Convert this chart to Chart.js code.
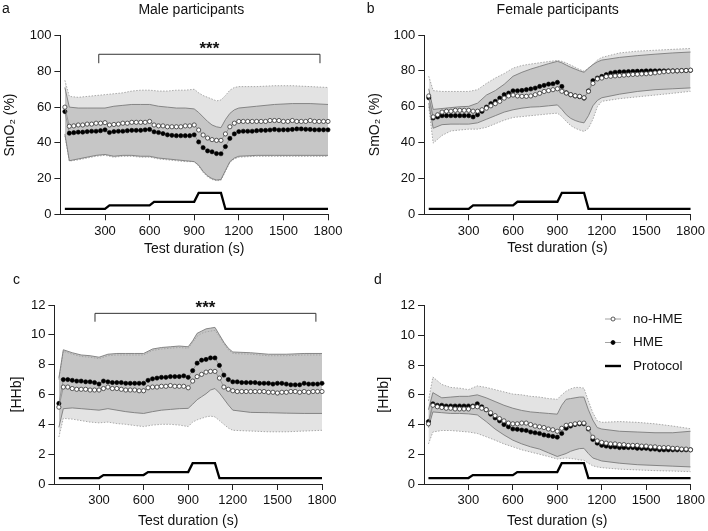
<!DOCTYPE html>
<html>
<head>
<meta charset="utf-8">
<script src="https://cdn.jsdelivr.net/npm/chart.js@4.4.1/dist/chart.umd.min.js"></script>
<style>
  body { margin: 0; background: #fff; }
  #wrap { position: relative; width: 708px; height: 531px; }
  canvas { position: absolute; }
</style>
</head>
<body>
<div id="wrap">
  <canvas id="panelA" width="354" height="265" style="left:0;top:0"></canvas>
  <canvas id="panelB" width="354" height="265" style="left:354px;top:0"></canvas>
  <canvas id="panelC" width="354" height="266" style="left:0;top:265px"></canvas>
  <canvas id="panelD" width="354" height="266" style="left:354px;top:265px"></canvas>
</div>
<script>
// time points of the means (s)
const times = [30, 60, 90, 120, 150, 180, 210, 240, 270, 300,
  330, 360, 390, 420, 450, 480, 510, 540, 570, 600,
  630, 660, 690, 720, 750, 780, 810, 840, 870, 900,
  930, 960, 990, 1020, 1050, 1080, 1110, 1140, 1170, 1200,
  1230, 1260, 1290, 1320, 1350, 1380, 1410, 1440, 1470, 1500,
  1530, 1560, 1590, 1620, 1650, 1680, 1710, 1740, 1770, 1800];
// time points where the SD bands were read
const bandTimes = [30, 60, 120, 180, 240, 300, 360, 420, 480, 540,
  600, 660, 720, 780, 840, 900,
  930, 960, 990, 1020, 1050, 1080, 1110, 1140, 1170, 1200,
  1320, 1440, 1560, 1680, 1800];
const protocolTimes = [30, 300, 330, 600, 630, 900, 930, 1080, 1110, 1800];
const protocolSmO2 = [3, 3, 5, 5, 7, 7, 12, 12, 3, 3];
const protocolHHb = [0.4, 0.4, 0.6, 0.6, 0.8, 0.8, 1.4, 1.4, 0.4, 0.4];

const xTicks = [300, 600, 900, 1200, 1500, 1800];
const smo2Ticks = [0, 20, 40, 60, 80, 100];
const hhbTicks = [0, 2, 4, 6, 8, 10, 12];

// a: male SmO2
const maleSmO2NoHme = [60, 49.3, 49.5, 50, 50, 50.5, 50.5, 51, 51, 51.3,
  50, 50.3, 50.5, 51, 51, 51.5, 51.5, 51.5, 51.5, 52,
  50, 49.5, 49.5, 49, 49, 49, 49, 49.5, 49.5, 50,
  47.2, 44.4, 42.7, 41.8, 41.4, 41.4, 45, 49, 51, 52,
  52, 52, 52, 52, 52, 52, 52.5, 52.5, 52.5, 52,
  52, 52.5, 52, 52, 52, 52.5, 52, 52, 52, 52];
const maleSmO2Hme = [57.5, 45.4, 45.7, 46, 46, 46.3, 46.5, 46.5, 46.8, 47.3,
  45.8, 46.3, 46.5, 46.5, 46.8, 47, 47, 47, 47.3, 47.5,
  46.2, 45.8, 45.2, 44.5, 44.2, 44, 44, 44, 44, 44.5,
  40.5, 37.3, 35.5, 35, 34, 33.9, 37.9, 42.5, 45, 46.3,
  46.5, 46.5, 46.5, 46.8, 47, 47, 47.2, 47.5, 47.2, 47.3,
  47.3, 47.5, 47.8, 47.8, 47.6, 47.5, 47.3, 47.3, 47.3, 47.3];
const maleSmO2NoHmeUpper = [75, 66, 65.5, 66, 66.5, 67, 67.5, 68, 69, 69.5,
  69.5, 69, 69, 69.5, 69.5, 70,
  68, 66.5, 65.5, 64.5, 63.5, 64, 66.5, 69.5, 71, 71.5,
  71.5, 72, 72, 71.5, 71];
const maleSmO2NoHmeLower = [44, 29.8, 30.5, 31.5, 32.5, 33, 32, 32.5, 32.5, 32,
  32, 31, 30.5, 30, 29.5, 29.5,
  27, 23.5, 21, 19.5, 18.8, 19, 24, 29, 31, 32,
  32.5, 32.5, 32.5, 32.5, 32.5];
const maleSmO2HmeUpper = [71, 60, 59.5, 59.5, 59.5, 59.5, 60.5, 61, 61.5, 61.5,
  61.5, 60.5, 60, 59.5, 59.5, 59,
  57, 54.5, 52, 50, 49, 48.5, 53, 56.5, 58.5, 59.5,
  60.5, 61.5, 62, 62, 61.5];
const maleSmO2HmeLower = [45, 30, 31, 32, 33, 33.5, 32.5, 33, 33, 32.5,
  32.5, 31.5, 31, 30.5, 30, 29.5,
  27.5, 24, 21.5, 20, 19.2, 19.5, 24.5, 29.5, 31.5, 32.5,
  33, 33, 33, 33, 33];

// b: female SmO2
const femaleSmO2NoHme = [66, 54.3, 55.5, 57, 57.5, 57.5, 58, 58, 58, 58,
  57.5, 57.5, 58.3, 59.2, 60.5, 61.7, 63, 64.8, 66, 66.5,
  66, 65.8, 65.8, 66, 66.7, 67.5, 68.5, 69, 69.5, 70,
  68.6, 67.6, 66.7, 66.1, 65.8, 65, 68.6, 73, 75.5, 76,
  76.8, 77, 77.2, 77.4, 77.6, 77.8, 78, 78.1, 78.3, 78.4,
  78.6, 78.9, 79.2, 79.5, 79.7, 79.9, 80, 80.1, 80.2, 80.4];
const femaleSmO2Hme = [65, 53.7, 54.3, 55, 55, 55, 55, 55, 55, 55,
  54.3, 55.5, 57.4, 59.8, 61.7, 63, 64.8, 66.7, 67.6, 68.9,
  68.9, 69.1, 69.5, 69.9, 70.4, 71.3, 71.9, 72.6, 72.8, 73.6,
  71.3, 67.8, 66.7, 66, 65.6, 64.8, 68.8, 74.5, 76, 76.9,
  77.9, 78.8, 79.2, 79.4, 79.5, 79.6, 79.7, 79.8, 79.8, 80,
  80, 80, 80, 80, 80, 80, 80, 80.2, 80.2, 80.3];
const femaleSmO2NoHmeUpper = [77, 69, 68.5, 68.5, 68.5, 68.5, 69.5, 73, 76, 78.5,
  81.5, 83, 83.8, 84.5, 85.2, 85.8,
  85.3, 84.4, 83.2, 82, 80.8, 79.8, 81.5, 83.5, 86, 87.5,
  90, 91, 91.5, 92, 92.5];
const femaleSmO2NoHmeLower = [60, 39.7, 44, 46.5, 47, 47.5, 47.5, 48.5, 50.5, 52.5,
  54, 54.5, 55, 55.5, 56, 56.4,
  54.5, 51.8, 49.5, 48, 47, 46.2, 48, 53, 60, 63,
  64.5, 65.5, 66.5, 67.5, 68.6];
const femaleSmO2HmeUpper = [70, 58.5, 59, 59.5, 60, 60.2, 62, 66.5, 69, 72.5,
  77, 79.2, 81, 82.5, 84, 85.3,
  84.5, 83.2, 82, 81, 80, 79.2, 81.5, 83.5, 85, 86,
  87.5, 88.5, 89.3, 90, 90.5];
const femaleSmO2HmeLower = [62, 48, 50, 50.3, 50.3, 50.3, 51, 53, 55, 57,
  58.3, 59.2, 59.8, 60, 60.5, 61,
  58.5, 55.5, 53.5, 52.3, 51.5, 51, 55, 60.5, 63.5, 65,
  67, 68.5, 69.5, 70, 70.5];

// c: male [HHb]
const maleHHbNoHme = [5.15, 6.5, 6.5, 6.4, 6.35, 6.35, 6.35, 6.3, 6.3, 6.3,
  6.4, 6.5, 6.4, 6.4, 6.35, 6.3, 6.3, 6.3, 6.25, 6.25,
  6.45, 6.5, 6.5, 6.55, 6.55, 6.6, 6.55, 6.55, 6.55, 6.45,
  6.9, 7.2, 7.35, 7.5, 7.55, 7.55, 7.1, 6.5, 6.35, 6.25,
  6.2, 6.2, 6.2, 6.2, 6.2, 6.2, 6.2, 6.15, 6.15, 6.1,
  6.15, 6.15, 6.2, 6.2, 6.15, 6.2, 6.15, 6.2, 6.2, 6.2];
const maleHHbHme = [5.4, 7.0, 7.0, 6.95, 6.9, 6.9, 6.85, 6.85, 6.8, 6.7,
  6.9, 6.85, 6.8, 6.8, 6.8, 6.75, 6.75, 6.75, 6.75, 6.75,
  6.95, 7.05, 7.1, 7.15, 7.15, 7.2, 7.2, 7.2, 7.25, 7.15,
  7.6, 8.1, 8.3, 8.35, 8.45, 8.45, 7.95, 7.3, 7.0, 6.85,
  6.85, 6.8, 6.8, 6.8, 6.8, 6.75, 6.75, 6.75, 6.7, 6.75,
  6.75, 6.7, 6.65, 6.65, 6.65, 6.75, 6.7, 6.7, 6.7, 6.75];
const maleHHbNoHmeUpper = [7.0, 8.9, 8.7, 8.55, 8.5, 8.4, 8.6, 8.65, 8.65, 8.65,
  8.65, 8.95, 9.05, 9.1, 9.15, 9.1,
  9.5, 9.9, 10.1, 10.2, 10.25, 10.3, 9.9, 9.4, 9.0, 8.75,
  8.7, 8.6, 8.6, 8.65, 8.65];
const maleHHbNoHmeLower = [3.15, 4.4, 4.35, 4.25, 4.15, 4.1, 4.15, 4.05, 4.0, 3.92,
  3.85, 3.95, 4.0, 4.0, 3.95, 3.85,
  4.15, 4.3, 4.4, 4.5, 4.55, 4.5, 4.25, 4.0, 3.75, 3.6,
  3.55, 3.5, 3.5, 3.55, 3.6];
const maleHHbHmeUpper = [7.1, 9.0, 8.8, 8.65, 8.6, 8.5, 8.7, 8.75, 8.75, 8.75,
  8.75, 9.05, 9.15, 9.2, 9.25, 9.2,
  9.6, 10.1, 10.25, 10.4, 10.45, 10.5, 10.0, 9.5, 9.1, 8.85,
  8.8, 8.7, 8.7, 8.75, 8.75];
const maleHHbHmeLower = [3.8, 5.05, 5.1, 5.05, 5.0, 4.95, 5.05, 4.95, 4.85, 4.78,
  4.73, 4.85, 4.95, 5.0, 5.05, 5.07,
  5.35, 5.65, 5.85, 6.05, 6.3, 6.4, 6.1, 5.7, 5.3, 4.95,
  4.8, 4.78, 4.75, 4.73, 4.73];

// d: female [HHb]
const femaleHHbNoHme = [4.05, 5.3, 5.2, 5.15, 5.1, 5.1, 5.05, 5.05, 5.05, 5.05,
  5.2, 5.2, 5.1, 5.0, 4.8, 4.6, 4.4, 4.25, 4.1, 4.05,
  4.05, 4.1, 4.1, 4.0, 3.9, 3.85, 3.8, 3.7, 3.65, 3.55,
  3.75, 3.95, 4.0, 4.05, 4.1, 4.1, 3.75, 3.15, 2.9, 2.8,
  2.75, 2.7, 2.7, 2.65, 2.65, 2.6, 2.6, 2.6, 2.55, 2.55,
  2.5, 2.5, 2.45, 2.45, 2.45, 2.4, 2.4, 2.35, 2.35, 2.3];
const femaleHHbHme = [4.2, 5.4, 5.3, 5.3, 5.25, 5.25, 5.25, 5.25, 5.25, 5.25,
  5.25, 5.4, 5.2, 5.0, 4.7, 4.45, 4.25, 4.0, 3.85, 3.7,
  3.68, 3.63, 3.6, 3.5, 3.45, 3.4, 3.3, 3.25, 3.2, 3.15,
  3.4, 3.75, 3.9, 4.0, 4.05, 4.05, 3.7, 3.0, 2.75, 2.6,
  2.55, 2.5, 2.5, 2.45, 2.45, 2.45, 2.45, 2.4, 2.4, 2.4,
  2.35, 2.35, 2.3, 2.3, 2.3, 2.3, 2.3, 2.3, 2.3, 2.3];
const femaleHHbNoHmeUpper = [5.6, 7.2, 6.7, 6.5, 6.45, 6.35, 6.6, 6.5, 6.35, 6.2,
  6.05, 6.0, 5.9, 5.85, 5.75, 5.7,
  6.0, 6.25, 6.4, 6.5, 6.5, 6.45, 5.6, 4.8, 4.25, 4.15,
  4.2, 4.15, 4.05, 3.9, 3.72];
const femaleHHbNoHmeLower = [2.7, 3.5, 3.6, 3.6, 3.55, 3.5, 3.4, 3.18, 2.95, 2.7,
  2.5, 2.3, 2.15, 2.0, 1.85, 1.68,
  1.72, 1.75, 1.72, 1.68, 1.62, 1.6, 1.4, 1.22, 1.15, 1.1,
  1.0, 0.95, 0.9, 0.87, 0.83];
const femaleHHbHmeUpper = [5.0, 6.15, 5.8, 5.85, 5.9, 5.9, 6.0, 5.8, 5.55, 5.3,
  5.1, 4.95, 4.85, 4.8, 4.75, 4.7,
  5.3, 5.7, 5.75, 5.8, 5.85, 5.85, 5.0, 4.3, 3.8, 3.7,
  3.55, 3.5, 3.45, 3.45, 3.55];
const femaleHHbHmeLower = [3.8, 4.85, 4.8, 4.75, 4.75, 4.72, 4.65, 4.2, 3.7, 3.3,
  2.95, 2.7, 2.5, 2.35, 2.1, 1.85,
  1.95, 2.05, 2.2, 2.3, 2.38, 2.4, 2.05, 1.75, 1.65, 1.55,
  1.4, 1.3, 1.25, 1.2, 1.15];

const FONT = "'Liberation Sans', Arial, Helvetica, sans-serif";
const INK = '#111';
const AXIS = '#222';
const LIGHT_FILL = '#e3e3e3';
const DARK_FILL = '#c6c6c6';
const MEAN_LINE = '#8c8c8c';

Chart.defaults.font.family = FONT;
Chart.defaults.color = INK;

function pts(xs, ys) {
  return xs.map((x, i) => ({x: x, y: ys[i]}));
}

// letters, titles, significance bracket and the legend
function decorPlugin(p) {
  return {
    id: 'decor',
    afterDraw(chart) {
      const ctx = chart.ctx;
      const xs = chart.scales.x;
      const ys = chart.scales.y;
      ctx.save();
      ctx.fillStyle = INK;
      ctx.textBaseline = 'alphabetic';
      ctx.font = '14px ' + FONT;
      ctx.textAlign = 'left';
      ctx.fillText(p.letter[0], p.letter[1], p.letter[2]);
      if (p.title) {
        ctx.textAlign = 'center';
        ctx.fillText(p.title[0], p.title[1], p.title[2]);
      }
      if (p.bracket) {
        const b = p.bracket;
        const x0 = xs.getPixelForValue(b.from);
        const x1 = xs.getPixelForValue(b.to);
        const y = ys.getPixelForValue(b.level);
        const yd = ys.getPixelForValue(b.drop);
        ctx.strokeStyle = '#333';
        ctx.lineWidth = 1;
        ctx.beginPath();
        ctx.moveTo(x0, yd);
        ctx.lineTo(x0, y);
        ctx.lineTo(x1, y);
        ctx.lineTo(x1, yd);
        ctx.stroke();
        ctx.font = 'bold 17px ' + FONT;
        ctx.textAlign = 'center';
        ctx.fillText('***', (x0 + x1) / 2, y);
      }
      if (p.legend) {
        const L = p.legend;
        ctx.font = '13.5px ' + FONT;
        ctx.textAlign = 'left';
        ctx.textBaseline = 'middle';
        L.rows.forEach((row, i) => {
          const y = row;
          const mid = (L.x0 + L.x1) / 2;
          ctx.beginPath();
          ctx.moveTo(L.x0, y);
          ctx.lineTo(L.x1, y);
          if (i === 2) {
            ctx.strokeStyle = '#000';
            ctx.lineWidth = 2.4;
          } else {
            ctx.strokeStyle = MEAN_LINE;
            ctx.lineWidth = 0.8;
          }
          ctx.stroke();
          if (i < 2) {
            ctx.beginPath();
            ctx.arc(mid, y, 2, 0, Math.PI * 2);
            ctx.fillStyle = i === 0 ? '#fff' : '#000';
            ctx.fill();
            ctx.strokeStyle = i === 0 ? '#333' : '#000';
            ctx.lineWidth = 0.8;
            ctx.stroke();
          }
          ctx.fillStyle = INK;
          ctx.fillText(L.labels[i], L.tx, y);
        });
      }
      ctx.restore();
    }
  };
}

function makePanel(id, p) {
  const canvas = document.getElementById(id);
  const W = canvas.width;
  const H = canvas.height;
  const band = {pointRadius: 0, tension: 0, borderWidth: 0.9, clip: false};
  const datasets = [
    Object.assign({label: 'no-HME lower', data: pts(bandTimes, p.noLo),
      borderColor: '#a0a0a0', borderDash: [1.5, 1.5], fill: false, order: 10}, band),
    Object.assign({label: 'no-HME upper', data: pts(bandTimes, p.noHi),
      borderColor: '#a0a0a0', borderDash: [1.5, 1.5], fill: 0,
      backgroundColor: LIGHT_FILL, order: 9}, band),
    Object.assign({label: 'HME lower', data: pts(bandTimes, p.hmLo),
      borderColor: '#7c7c7c', fill: false, order: 8}, band),
    Object.assign({label: 'HME upper', data: pts(bandTimes, p.hmHi),
      borderColor: '#7c7c7c', fill: 2, backgroundColor: DARK_FILL, order: 7}, band),
    {label: 'Protocol', data: pts(protocolTimes, p.protocol), borderColor: '#000',
      borderWidth: 2.3, pointRadius: 0, tension: 0, fill: false, order: 3, clip: false},
    {label: 'HME', data: pts(times, p.hme), borderColor: MEAN_LINE, borderWidth: 0.8,
      pointRadius: 2.1, pointBackgroundColor: '#000', pointBorderColor: '#000',
      pointBorderWidth: 0.6, tension: 0, fill: false, order: 2, clip: false},
    {label: 'no-HME', data: pts(times, p.noHme), borderColor: MEAN_LINE, borderWidth: 0.8,
      pointRadius: 2.1, pointBackgroundColor: '#fff', pointBorderColor: '#333',
      pointBorderWidth: 0.8, tension: 0, fill: false, order: 1, clip: false},
  ];
  const tickGrid = {display: true, drawOnChartArea: false, drawTicks: true,
    tickLength: 6, tickColor: AXIS, tickWidth: 1};
  return new Chart(canvas, {
    type: 'line',
    data: {datasets: datasets},
    options: {
      responsive: false,
      animation: false,
      events: [],
      layout: {padding: {left: 0, top: p.area.top, right: W - p.area.right, bottom: 0}},
      plugins: {
        legend: {display: false},
        tooltip: {enabled: false},
        filler: {drawTime: 'beforeDatasetsDraw'},
      },
      scales: {
        x: {
          type: 'linear', min: 0, max: 1800,
          afterBuildTicks: (s) => { s.ticks = xTicks.map((v) => ({value: v})); },
          afterFit: (s) => { s.height = H - p.area.bottom; },
          ticks: {font: {size: 13}, color: INK, padding: 3, maxRotation: 0,
            autoSkip: false, callback: (v) => String(v)},
          grid: tickGrid,
          border: {display: true, color: AXIS, width: 1},
          title: {display: true, text: 'Test duration (s)', color: INK,
            font: {size: 14}, padding: {top: 0, bottom: p.xTitlePad}},
        },
        y: {
          type: 'linear', min: p.yTicks[0], max: p.yTicks[p.yTicks.length - 1],
          afterBuildTicks: (s) => { s.ticks = p.yTicks.map((v) => ({value: v})); },
          afterFit: (s) => { s.width = p.area.left; },
          ticks: {font: {size: 13}, color: INK, padding: 3, autoSkip: false,
            callback: (v) => String(v)},
          grid: tickGrid,
          border: {display: true, color: AXIS, width: 1},
          title: {display: true, text: p.yTitle, color: INK,
            font: {size: 14}, padding: {top: p.yTitlePad, bottom: 0}},
        },
      },
    },
    plugins: [decorPlugin(p)],
  });
}

makePanel('panelA', {
  area: {left: 60.4, top: 35.7, right: 328, bottom: 214.3},
  yTicks: smo2Ticks, yTitle: 'SmO\u2082 (%)', yTitlePad: 2, xTitlePad: 7.3,
  noHme: maleSmO2NoHme, hme: maleSmO2Hme,
  noHi: maleSmO2NoHmeUpper, noLo: maleSmO2NoHmeLower,
  hmHi: maleSmO2HmeUpper, hmLo: maleSmO2HmeLower,
  protocol: protocolSmO2,
  letter: ['a', 2, 13], title: ['Male participants', 191.3, 13.5],
  bracket: {from: 258, to: 1746, level: 89.6, drop: 84.6},
});

makePanel('panelB', {
  area: {left: 70.3, top: 35, right: 338.3, bottom: 214.3},
  yTicks: smo2Ticks, yTitle: 'SmO\u2082 (%)', yTitlePad: 12.5, xTitlePad: 8.3,
  noHme: femaleSmO2NoHme, hme: femaleSmO2Hme,
  noHi: femaleSmO2NoHmeUpper, noLo: femaleSmO2NoHmeLower,
  hmHi: femaleSmO2HmeUpper, hmLo: femaleSmO2HmeLower,
  protocol: protocolSmO2,
  letter: ['b', 12.7, 12.5], title: ['Female participants', 203.7, 13.5],
});

makePanel('panelC', {
  area: {left: 54.4, top: 40, right: 322, bottom: 219},
  yTicks: hhbTicks, yTitle: '[HHb]', yTitlePad: 9, xTitlePad: 1,
  noHme: maleHHbNoHme, hme: maleHHbHme,
  noHi: maleHHbNoHmeUpper, noLo: maleHHbNoHmeLower,
  hmHi: maleHHbHmeUpper, hmLo: maleHHbHmeLower,
  protocol: protocolHHb,
  letter: ['c', 13, 19.3],
  bracket: {from: 273, to: 1759, level: 11.44, drop: 10.88},
});

makePanel('panelD', {
  area: {left: 70, top: 40.7, right: 338.3, bottom: 219},
  yTicks: hhbTicks, yTitle: '[HHb]', yTitlePad: 22, xTitlePad: 1,
  noHme: femaleHHbNoHme, hme: femaleHHbHme,
  noHi: femaleHHbNoHmeUpper, noLo: femaleHHbNoHmeLower,
  hmHi: femaleHHbHmeUpper, hmLo: femaleHHbHmeLower,
  protocol: protocolHHb,
  letter: ['d', 20, 19.3],
  legend: {x0: 251, x1: 267, tx: 279, rows: [54, 77.5, 101],
    labels: ['no-HME', 'HME', 'Protocol']},
});
</script>
</body>
</html>
